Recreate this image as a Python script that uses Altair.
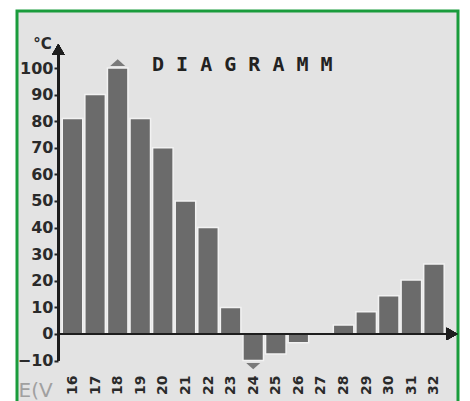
import altair as alt
import pandas as pd

# ---- data ----
days = list(range(16, 33))
temps = [81, 90, 100, 81, 70, 50, 40, 10, -10, -7.5, -3.3, 0, 3.4, 8.4, 14.4, 20.3, 26.3]
y_ticks = [-10, 0, 10, 20, 30, 40, 50, 60, 70, 80, 90, 100]
title_text = "D I A G R A M M"
unit_label = "°C"
corner_text = "E(V"

# ---- layout constants (data units) ----
X_DOMAIN = [13.543, 33.065]
Y_DOMAIN = [-28.95, 121.43]
AXIS_X = 15.371      # where the vertical axis sits
ARROW_X = 32.80      # x-axis arrow head
ARROW_Y = 107.0      # y-axis arrow head
BAR_HALF = 0.454

df = pd.DataFrame({"day": days, "temp": temps})
df["x0"] = df["day"] - BAR_HALF
df["x1"] = df["day"] + BAR_HALF

xs = alt.Scale(domain=X_DOMAIN, nice=False, zero=False)
ys = alt.Scale(domain=Y_DOMAIN, nice=False, zero=False)

x_axis = alt.Axis(
    values=days, labelAngle=270, offset=-36, domain=False, ticks=False,
    labelPadding=0, labelFont="DejaVu Sans", labelFontWeight="bold",
    labelFontSize=14, labelColor="#2a2a2a", grid=False, labelFlush=False,
    labelOverlap=False, title=corner_text, titleX=1, titleY=5,
    titleAlign="left", titleBaseline="top", titleAnchor="start",
    titleFont="DejaVu Sans", titleFontSize=20, titleFontWeight="normal",
    titleColor="#a0a0a0",
)
y_axis = alt.Axis(
    values=y_ticks, offset=-41, domain=False, tickSize=4, tickWidth=2,
    tickColor="#222222", labelFont="DejaVu Sans", labelFontWeight="bold",
    labelFontSize=16, labelColor="#2a2a2a", labelPadding=1, grid=False,
    labelFlush=False, labelOverlap=False,
    title=unit_label, titleAngle=0, titleX=-16, titleY=37, titleAlign="center",
    titleBaseline="alphabetic", titleFont="DejaVu Sans", titleFontSize=15,
    titleFontWeight="bold", titleColor="#2a2a2a",
)

base = alt.Chart(df)

bars = base.mark_bar(color="#6b6b6b", stroke="#f2f2f2", strokeWidth=1.5).encode(
    x=alt.X("x0:Q", scale=xs, axis=x_axis),
    x2="x1:Q",
    y=alt.Y("temp:Q", scale=ys, axis=y_axis),
    y2=alt.datum(0),
)

x_line = base.mark_rule(color="#1e1e1e", strokeWidth=2).encode(
    x=alt.X(datum=AXIS_X, scale=xs, axis=x_axis),
    x2=alt.datum(ARROW_X),
    y=alt.Y(datum=0, scale=ys, axis=y_axis),
)
y_line = base.mark_rule(color="#1e1e1e", strokeWidth=2).encode(
    x=alt.X(datum=AXIS_X, scale=xs, axis=x_axis),
    y=alt.Y(datum=-10, scale=ys, axis=y_axis),
    y2=alt.datum(ARROW_Y),
)
x_arrow = base.mark_point(shape="triangle-right", filled=True, size=150,
                          color="#1e1e1e", opacity=1).encode(
    x=alt.X(datum=ARROW_X, scale=xs, axis=x_axis),
    y=alt.Y(datum=0, scale=ys, axis=y_axis),
)
y_arrow = base.mark_point(shape="triangle-up", filled=True, size=150,
                          color="#1e1e1e", opacity=1).encode(
    x=alt.X(datum=AXIS_X, scale=xs, axis=x_axis),
    y=alt.Y(datum=ARROW_Y, scale=ys, axis=y_axis),
)

flat_up = "M-1,0.45L0,-0.45L1,0.45Z"
flat_down = "M-1,-0.45L0,0.45L1,-0.45Z"
max_mark = base.transform_joinaggregate(mx="max(temp)").transform_filter(
    "datum.temp == datum.mx").mark_point(
    shape=flat_up, filled=True, size=225, color="#7a7a7a", opacity=1, yOffset=-5.5).encode(
    x=alt.X("day:Q", scale=xs, axis=x_axis),
    y=alt.Y("temp:Q", scale=ys, axis=y_axis),
)
min_mark = base.transform_joinaggregate(mn="min(temp)").transform_filter(
    "datum.temp == datum.mn").mark_point(
    shape=flat_down, filled=True, size=196, color="#7a7a7a", opacity=1, yOffset=5.5).encode(
    x=alt.X("day:Q", scale=xs, axis=x_axis),
    y=alt.Y("temp:Q", scale=ys, axis=y_axis),
)

chart = alt.layer(bars, x_line, y_line, x_arrow, y_arrow, max_mark, min_mark).properties(
    width=441, height=400,
    title=alt.TitleParams(title_text, anchor="start", frame="group", font="DejaVu Sans Mono",
                          fontSize=20, fontWeight="bold", color="#222222", dx=135, dy=80,
                          offset=0, baseline="alphabetic"),
    autosize=alt.AutoSizeParams(type="none"),
    padding={"left": 9, "top": 3, "right": 2, "bottom": 0},
    background="white",
).configure_view(fill="#e3e3e3", stroke="#1a9c3c", strokeWidth=3)

chart.save("out.html", embed_options={"renderer": "svg", "actions": False})
